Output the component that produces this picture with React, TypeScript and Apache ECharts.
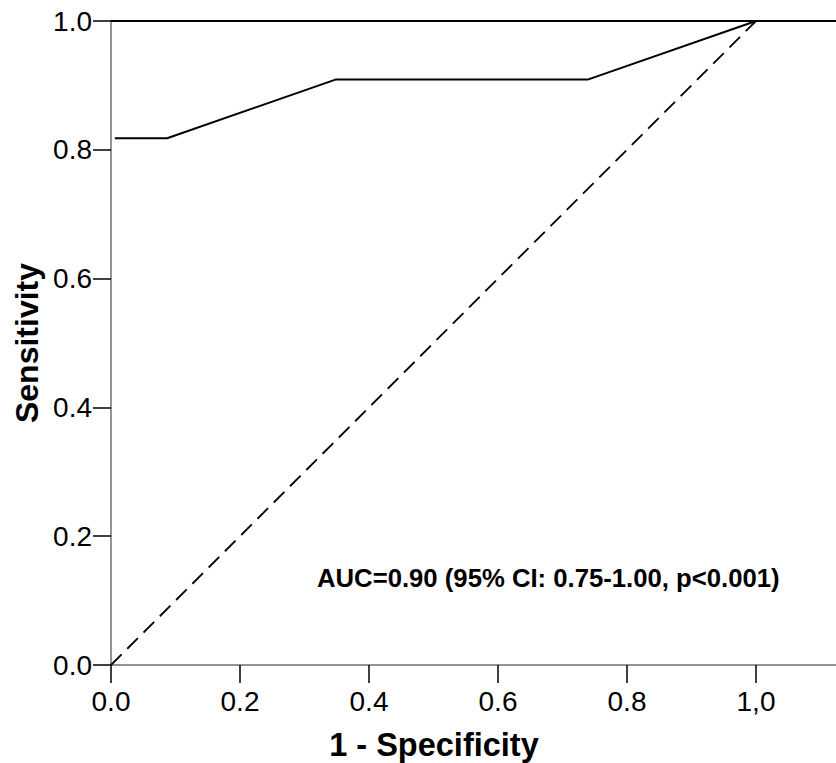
import React, { useEffect, useRef } from "react";
import * as echarts from "echarts";

const rocFpr = [0.006, 0.087, 0.348, 0.739, 1.0];
const rocTpr = [0.818, 0.818, 0.909, 0.909, 1.0];
const refX = [0, 1];
const refY = [0, 1];
const topLineX = [0, 1.124];
const topLineY = [1, 1];
const xTicks = [0, 0.2, 0.4, 0.6, 0.8, 1.0];
const xTickLabels = ["0.0", "0.2", "0.4", "0.6", "0.8", "1,0"];
const yTickLabels = ["0.0", "0.2", "0.4", "0.6", "0.8", "1.0"];
const xName = "1 - Specificity";
const yName = "Sensitivity";
const aucText = "AUC=0.90 (95% CI: 0.75-1.00, p<0.001)";

const FONT = "'Liberation Sans', Arial, sans-serif";

export default function App() {
  const ref = useRef<HTMLDivElement>(null);
  useEffect(() => {
    if (!ref.current) return;
    const chart = echarts.init(ref.current, null, { renderer: "svg" });
    const zip = (xs: number[], ys: number[]) => xs.map((x, i) => [x, ys[i]]);
    chart.setOption({
      animation: false,
      backgroundColor: "#ffffff",
      grid: { left: 111, top: 21, right: 0, bottom: 98 },
      xAxis: {
        type: "value",
        min: 0,
        max: 1.124,
        interval: 0.2,
        axisLine: { show: true, lineStyle: { color: "#707070", width: 1.5 } },
        axisTick: { show: true, inside: false, length: 18, lineStyle: { color: "#000", width: 1.5 } },
        splitLine: { show: false },
        axisLabel: {
          margin: 22,
          fontSize: 28,
          fontFamily: FONT,
          color: "#000",
          showMaxLabel: false,
          formatter: (v: number) => {
            const idx = xTicks.findIndex((t) => Math.abs(t - v) < 1e-6);
            return idx >= 0 ? xTickLabels[idx] : "";
          },
        },
      },
      yAxis: {
        type: "value",
        min: 0,
        max: 1,
        interval: 0.2,
        axisLine: { show: true, lineStyle: { color: "#707070", width: 1.5 } },
        axisTick: { show: true, inside: false, length: 18, lineStyle: { color: "#000", width: 1.5 } },
        splitLine: { show: false },
        axisLabel: {
          margin: 19,
          fontSize: 28,
          fontFamily: FONT,
          color: "#000",
          formatter: (v: number) => yTickLabels[Math.round(v / 0.2)] ?? "",
        },
      },
      series: [
        {
          type: "line",
          data: zip(topLineX, topLineY),
          symbol: "none",
          lineStyle: { color: "#000", width: 2 },
          z: 3,
        },
        {
          type: "line",
          data: zip(refX, refY),
          symbol: "none",
          lineStyle: { color: "#000", width: 1.8, type: [15, 8] },
        },
        {
          type: "line",
          data: zip(rocFpr, rocTpr),
          symbol: "none",
          lineStyle: { color: "#000", width: 2 },
        },
      ],
      graphic: [
        {
          type: "text",
          x: 434,
          y: 745,
          style: {
            text: xName,
            fontSize: 32.5,
            fontWeight: "bold",
            fontFamily: FONT,
            fill: "#000",
            textAlign: "center",
            textVerticalAlign: "middle",
          },
        },
        {
          type: "text",
          x: 27,
          y: 343,
          rotation: Math.PI / 2,
          style: {
            text: yName,
            fontSize: 32,
            fontWeight: "bold",
            fontFamily: FONT,
            fill: "#000",
            textAlign: "center",
            textVerticalAlign: "middle",
          },
        },
        {
          type: "text",
          x: 317,
          y: 578,
          style: {
            text: aucText,
            fontSize: 25.7,
            fontWeight: "bold",
            fontFamily: FONT,
            fill: "#000",
            textAlign: "left",
            textVerticalAlign: "middle",
          },
        },
      ],
    });
    return () => chart.dispose();
  }, []);
  return (
    <div
      ref={ref}
      style={{ position: "fixed", left: 0, top: 0, width: 836, height: 763, background: "#fff" }}
    />
  );
}
